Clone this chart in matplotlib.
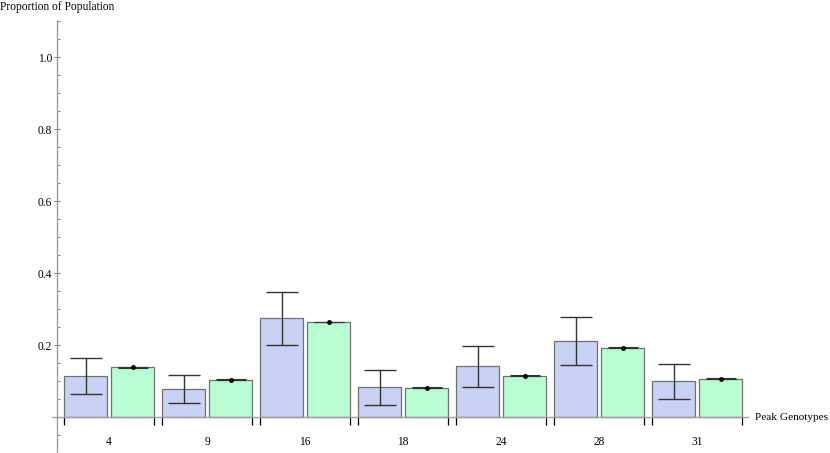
import numpy as np
import matplotlib
matplotlib.use('Agg')
import matplotlib.pyplot as plt
from matplotlib.ticker import MultipleLocator, FixedLocator, NullFormatter

plt.rcParams['font.family'] = ['Liberation Serif', 'DejaVu Serif']

genotypes = ['4', '9', '16', '18', '24', '28', '31']
blue_vals = [0.115, 0.078, 0.274, 0.082, 0.141, 0.212, 0.099]
blue_lo = [0.065, 0.038, 0.199, 0.033, 0.084, 0.144, 0.051]
blue_hi = [0.165, 0.118, 0.348, 0.131, 0.198, 0.278, 0.148]
green_vals = [0.138, 0.104, 0.264, 0.081, 0.115, 0.192, 0.106]
green_err = [0.0012, 0.0012, 0.0012, 0.0012, 0.0012, 0.0012, 0.0012]

blue_col = '#c9d1f4'
green_col = '#b9fdd3'
edge = '#707070'
axcol = '#a0a0a0'

fig = plt.figure(figsize=(8.3, 4.53), dpi=100)
ax = fig.add_axes([57/830, 0, (748-57)/830, 1 - 21/453])

x = np.arange(len(genotypes))
w = 0.44
off = 0.24

ax.bar(x - off, blue_vals, w, color=blue_col, edgecolor=edge, linewidth=0.9, zorder=2)
ax.bar(x + off, green_vals, w, color=green_col, edgecolor=edge, linewidth=0.9, zorder=2)

b = np.array(blue_vals)
yerr = [b - np.array(blue_lo), np.array(blue_hi) - b]
ax.errorbar(x - off, blue_vals, yerr=yerr, fmt='none', ecolor='#333333',
            elinewidth=1, capsize=11.5, capthick=1, zorder=3)
ax.errorbar(x + off, green_vals, yerr=green_err, fmt='o', color='black',
            markersize=2.5, ecolor='#333333', elinewidth=0.8, capsize=11,
            capthick=0.8, zorder=3)

ax.set_xlim(-0.531, 6.52)
ax.set_ylim(-0.1, 1.1)

for s in ['top', 'right']:
    ax.spines[s].set_visible(False)
ax.spines['bottom'].set_position(('data', 0))
ax.spines['bottom'].set_bounds(-0.582, 6.52)
ax.spines['bottom'].set_color(axcol)
ax.spines['left'].set_color(axcol)
ax.spines['bottom'].set_linewidth(1)
ax.spines['left'].set_linewidth(1)

# y ticks
ax.yaxis.set_major_locator(FixedLocator([0.2, 0.4, 0.6, 0.8, 1.0]))
ax.yaxis.set_minor_locator(MultipleLocator(0.05))
ax.set_yticklabels(['0.2', '0.4', '0.6', '0.8', '1.0'])
ax.tick_params(axis='y', which='major', direction='inout', length=5,
               width=0.8, color='#808080', labelsize=8.3, pad=1)
ax.tick_params(axis='y', which='minor', direction='in', length=2.5,
               width=0.8, color='#808080')

# x ticks: labels at group centres, marks at group edges
ax.set_xticks(x)
ax.set_xticklabels(genotypes)
edges = np.concatenate([x - 0.459, x + 0.459])
ax.xaxis.set_minor_locator(FixedLocator(edges))
ax.xaxis.set_minor_formatter(NullFormatter())
ax.tick_params(axis='x', which='major', length=0, labelsize=8.3, pad=14)
ax.tick_params(axis='x', which='minor', direction='out', length=6,
               width=0.9, color='black')

fig.text(0, 1 - 7/453, 'Proportion of Population', fontsize=8.3,
         ha='left', va='center')
fig.text(828/830, 1 - 417/453, 'Peak Genotypes', fontsize=8.1,
         ha='right', va='center')

fig.savefig('out.png', dpi=100)
